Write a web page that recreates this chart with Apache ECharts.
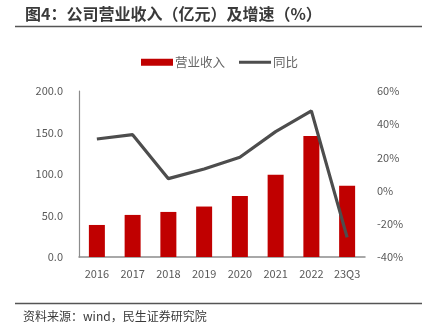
<!DOCTYPE html>
<html><head><meta charset="utf-8">
<script src="https://cdn.jsdelivr.net/npm/echarts@6/dist/echarts.min.js"></script>
<style>html,body{margin:0;padding:0;background:#fff}#c{width:426px;height:332px}</style>
</head><body><div id="c"></div>
<script>
var categories = ['2016','2017','2018','2019','2020','2021','2022','23Q3'];
var revenue = [38.6, 50.7, 54.3, 60.8, 73.6, 99.0, 145.7, 85.7];
var growth = [31.1, 33.7, 7.2, 13.0, 20.1, 35.5, 48.0, -28.2];
var leftTicks = [0, 50, 100, 150, 200];
var rightTicks = [-40, -20, 0, 20, 40, 60];
var titleText = '图4：公司营业收入（亿元）及增速（%）';
var sourceText = '资料来源：wind，民生证券研究院';
var font = '"Noto Sans CJK SC", "Noto Sans", sans-serif';

var chart = echarts.init(document.getElementById('c'));
chart.setOption({
  animation: false,
  textStyle: {fontFamily: font},
  graphic: [
    {type:'text', left:25, top:6, style:{text:titleText, font:'bold 16px '+font, fill:'#3a3a3a'}},
    {type:'line', shape:{x1:15,y1:26.5,x2:422,y2:26.5}, style:{stroke:'#555', lineWidth:1.5}},
    {type:'line', shape:{x1:15,y1:303.5,x2:422,y2:303.5}, style:{stroke:'#555', lineWidth:1.5}},
    {type:'text', left:23, top:310, style:{text:sourceText, font:'12px '+font, fill:'#3a3a3a'}}
  ],
  legend: {
    top: 51, left: 136, itemGap: 14, itemWidth: 32, itemHeight: 7,
    textStyle: {color:'#666', fontSize:12.5, padding:[0,0,0,-3]},
    data: [{name:'营业收入', icon:'rect'}, {name:'同比', icon:'path://M0,0 L10,0 L10,1 L0,1 Z'}]
  },
  grid: {left:79, right:61, top:91, bottom:75},
  xAxis: {
    type:'category', data: categories,
    axisLine:{lineStyle:{color:'#8c8c8c', width:1.5}},
    axisTick:{show:false},
    axisLabel:{color:'#595959', fontSize:11, margin:11}
  },
  yAxis: [
    {type:'value', min:0, max:200, interval:50,
     axisLine:{show:true, lineStyle:{color:'#8c8c8c', width:1.2}},
     axisTick:{show:false}, splitLine:{show:false},
     axisLabel:{color:'#595959', fontSize:11, margin:16, formatter:function(v){return leftTicks.indexOf(v)>=0? v.toFixed(1):'';}}},
    {type:'value', min:-40, max:60, interval:20,
     axisLine:{show:false}, axisTick:{show:false}, splitLine:{show:false},
     axisLabel:{color:'#595959', fontSize:11, margin:12, formatter:function(v){return rightTicks.indexOf(v)>=0? v+'%':'';}}}
  ],
  series: [
    {name:'营业收入', type:'bar', data: revenue, barWidth:16, itemStyle:{color:'#c00000'}},
    {name:'同比', type:'line', yAxisIndex:1, data: growth, symbol:'none',
     lineStyle:{color:'#4d4d4d', width:3.2}, itemStyle:{color:'#4d4d4d'}}
  ]
});
</script></body></html>
